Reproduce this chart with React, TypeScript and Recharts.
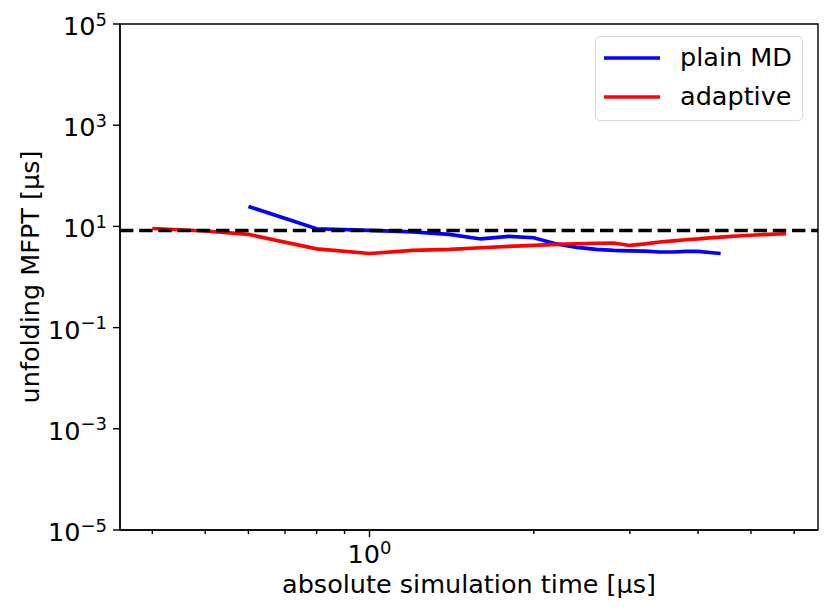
import { Legend, Line, LineChart, ReferenceArea, ReferenceLine, XAxis, YAxis } from "recharts";

// simulation time [µs] and unfolding MFPT [µs]
const plainTimes = [0.6, 0.8, 1.0, 1.2, 1.4, 1.6, 1.8, 2.0, 2.2, 2.4, 2.6, 2.8, 3.0, 3.2, 3.4, 3.6, 3.8, 4.0, 4.2, 4.4];
const plainMfpt = [24.8, 9.0, 8.34, 7.78, 6.95, 5.66, 6.35, 5.98, 4.51, 3.85, 3.51, 3.36, 3.28, 3.24, 3.11, 3.13, 3.21, 3.21, 3.06, 2.92];

const adaptiveTimes = [0.4, 0.5, 0.6, 0.8, 1.0, 1.2, 1.4, 1.6, 1.8, 2.0, 2.2, 2.4, 2.6, 2.8, 3.0, 3.2, 3.4, 3.6, 3.8, 4.0, 4.2, 4.4, 4.6, 4.8, 5.0, 5.2, 5.4, 5.6, 5.8];
const adaptiveMfpt = [9.1, 8.1, 6.95, 3.6, 2.92, 3.36, 3.51, 3.79, 4.03, 4.21, 4.41, 4.55, 4.66, 4.68, 4.21, 4.51, 4.9, 5.17, 5.46, 5.66, 5.93, 6.15, 6.35, 6.55, 6.7, 6.85, 6.95, 7.08, 7.18];

const referenceMfpt = 8.3;

const seriesNames = ["plain MD", "adaptive"];
const xDomain = [0.349, 6.635];
const yDomain = [1e-5, 1e5];
const xTicks = [0.4, 0.5, 0.6, 0.7, 0.8, 0.9, 1, 2, 3, 4, 5, 6];
const yTicks = [1e-5, 1e-3, 1e-1, 1e1, 1e3, 1e5];

const plainData = plainTimes.map((t, i) => ({ t, mfpt: plainMfpt[i] }));
const adaptiveData = adaptiveTimes.map((t, i) => ({ t, mfpt: adaptiveMfpt[i] }));

const FONT = "DejaVu Sans";
const FS = 25.5;
const SUP = 18;

const expLabel = (v: number) => {
  const e = Math.round(Math.log10(v));
  return e < 0 ? "\u2212" + Math.abs(e) : String(e);
};

const XTick = (props: any) => {
  const { x, y, payload } = props;
  const major = Math.abs(Math.log10(payload.value) % 1) < 1e-6;
  return (
    <g>
      <line x1={x} x2={x} y1={y} y2={y + (major ? 7 : 4)} stroke="#000" strokeWidth={1.4} />
      {major && (
        <text x={x} y={y + 33} textAnchor="middle" fontFamily={FONT} fontSize={FS} fill="#000">
          10<tspan dy={-9.5} fontSize={SUP}>{expLabel(payload.value)}</tspan>
        </text>
      )}
    </g>
  );
};

const YTick = (props: any) => {
  const { x, y, payload } = props;
  return (
    <g>
      <line x1={x - 7} x2={x} y1={y} y2={y} stroke="#000" strokeWidth={1.4} />
      <text x={x - 13} y={y + 11} textAnchor="end" fontFamily={FONT} fontSize={FS} fill="#000">
        10<tspan dy={-9.5} fontSize={SUP}>{expLabel(payload.value)}</tspan>
      </text>
    </g>
  );
};

const LegendBox = (props: any) => {
  const items = [...(props.payload || [])].sort(
    (a: any, b: any) => seriesNames.indexOf(a.value) - seriesNames.indexOf(b.value)
  );
  return (
    <div
      style={{
        width: 208,
        height: 85,
        boxSizing: "border-box",
        border: "1.5px solid #d8d8d8",
        borderRadius: 5,
        background: "rgba(255,255,255,0.8)",
        padding: "1px 0 0 8px",
        fontFamily: FONT,
        fontSize: FS,
        lineHeight: 1,
        color: "#000",
      }}
    >
      {items.map((it: any) => (
        <div key={it.value} style={{ display: "flex", alignItems: "center", height: 39 }}>
          <svg width={56} height={10} style={{ marginRight: 20, flex: "none" }}>
            <line x1={0} x2={56} y1={5} y2={5} stroke={it.color} strokeWidth={3.6} />
          </svg>
          <span>{it.value}</span>
        </div>
      ))}
    </div>
  );
};

export default function App() {
  return (
    <div style={{ position: "absolute", left: 0, top: 0, background: "#fff" }}>
      <LineChart width={830} height={615} margin={{ top: 24, right: 12, bottom: 0, left: 0 }}>
        <XAxis
          dataKey="t"
          type="number"
          scale="log"
          domain={xDomain}
          allowDataOverflow
          ticks={xTicks}
          interval={0}
          tick={<XTick />}
          tickLine={false}
          tickSize={0}
          tickMargin={0}
          height={85}
          axisLine={{ stroke: "#000", strokeWidth: 1.4 }}
          label={{
            value: "absolute simulation time [\u03bcs]",
            position: "insideBottom",
            offset: 22,
            style: { fontFamily: FONT, fontSize: FS, fill: "#000" },
          }}
        />
        <YAxis
          type="number"
          scale="log"
          domain={yDomain}
          allowDataOverflow
          ticks={yTicks}
          interval={0}
          tick={<YTick />}
          tickLine={false}
          tickSize={0}
          tickMargin={0}
          width={120}
          axisLine={{ stroke: "#000", strokeWidth: 1.4 }}
          label={{
            value: "unfolding MFPT [\u03bcs]",
            angle: -90,
            position: "insideLeft",
            offset: 30,
            style: { fontFamily: FONT, fontSize: FS, fill: "#000", textAnchor: "middle" },
          }}
        />
        <ReferenceArea
          x1={xDomain[0]}
          x2={xDomain[1]}
          y1={yDomain[0]}
          y2={yDomain[1]}
          fill="none"
          fillOpacity={0}
          stroke="#000"
          strokeWidth={1.4}
          ifOverflow="visible"
        />
        <Legend
          layout="horizontal"
          verticalAlign="middle"
          align="center"
          content={<LegendBox />}
          wrapperStyle={{ top: 36, right: 27, left: "auto", bottom: "auto", width: "auto" }}
        />
        <Line
          data={plainData}
          dataKey="mfpt"
          name="plain MD"
          type="linear"
          stroke="#0000ff"
          strokeWidth={3.6}
          dot={false}
          isAnimationActive={false}
        />
        <Line
          data={adaptiveData}
          dataKey="mfpt"
          name="adaptive"
          type="linear"
          stroke="#ff0000"
          strokeWidth={3.6}
          dot={false}
          isAnimationActive={false}
        />
        <ReferenceLine y={referenceMfpt} stroke="#000" strokeWidth={3.6} strokeDasharray="13.4 5.8" />
      </LineChart>
    </div>
  );
}
